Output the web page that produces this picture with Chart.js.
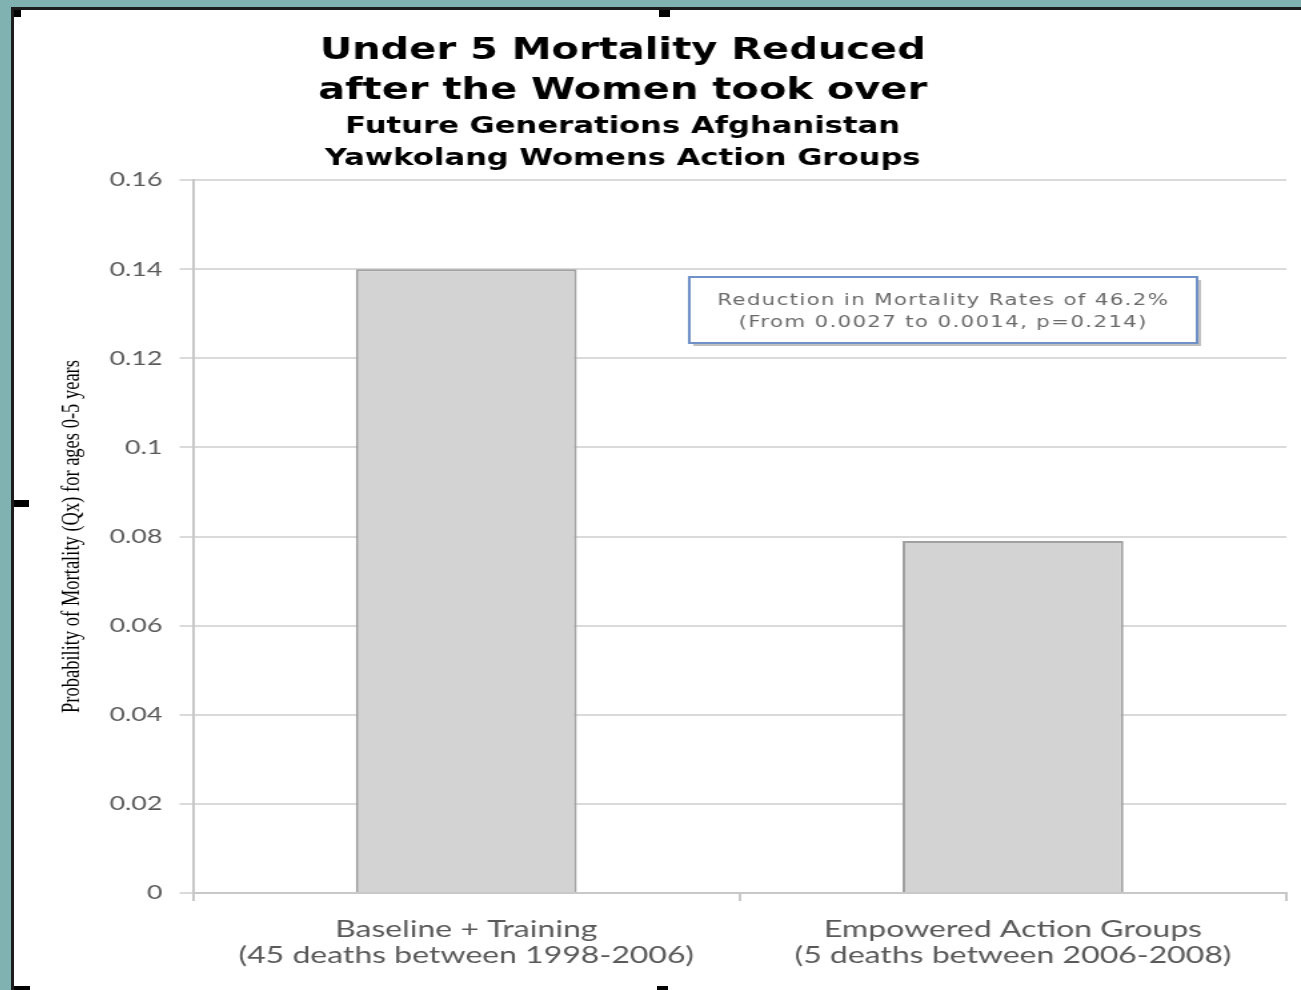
<!DOCTYPE html>
<html>
<head>
<meta charset="utf-8">
<script src="https://cdn.jsdelivr.net/npm/chart.js@4"></script>
<style>
    html, body { margin: 0; padding: 0; }
    body { width: 1301px; height: 990px; background: #80b2b2; position: relative; overflow: hidden; }
    #panel { position: absolute; left: 11px; top: 7px; width: 1290px; height: 983px; background: #fff;
             border-top: 3px solid #1c1c1c; border-left: 3px solid #1c1c1c; box-sizing: border-box; }
    #mortalityChart { position: absolute; left: 15px; top: 10px; }
    .handle { position: absolute; background: #000; }
</style>
</head>
<body>
<div id="panel"></div>
<canvas id="mortalityChart" width="965" height="980" style="width:1286px;height:980px;"></canvas>
<div class="handle" style="left:14px;top:10px;width:7px;height:7px;"></div>
<div class="handle" style="left:659px;top:10px;width:11px;height:7px;"></div>
<div class="handle" style="left:14px;top:500px;width:15px;height:7px;"></div>
<div class="handle" style="left:14px;top:986px;width:16px;height:4px;"></div>
<div class="handle" style="left:657px;top:986px;width:11px;height:4px;"></div>
<script>
// values
const categories = [
    ['Baseline + Training', '(45 deaths between 1998-2006)'],
    ['Empowered Action Groups', '(5 deaths between 2006-2008)']
];
const mortality = [0.14, 0.079];
const titleLines = ['Under 5 Mortality Reduced', 'after the Women took over'];
const subtitleLines = ['Future Generations Afghanistan', 'Yawkolang Womens Action Groups'];
const noteLines = ['Reduction in Mortality Rates of 46.2%', '(From 0.0027 to 0.0014, p=0.214)'];
const yTitle = 'Probability of Mortality (Qx) for ages 0-5 years';

// titles and the note box are drawn by hand
const textPlugin = {
    id: 'slideText',
    afterDraw(chart) {
        const ctx = chart.ctx;
        const area = chart.chartArea;
        ctx.save();
        ctx.textAlign = 'center';
        ctx.textBaseline = 'middle';
        ctx.fillStyle = '#000';
        ctx.font = 'bold 30px "DejaVu Sans"';
        titleLines.forEach((t, i) => ctx.fillText(t, 456, 41 + i * 40));
        ctx.font = 'bold 23px "DejaVu Sans"';
        subtitleLines.forEach((t, i) => ctx.fillText(t, 456, 117 + i * 32));

        // note box
        const bx = 506, by = area.top + 97, bw = 381, bh = 66;
        ctx.fillStyle = 'rgba(0,0,0,0.25)';
        ctx.fillRect(bx + 3, by + 3, bw, bh);
        ctx.fillStyle = '#fff';
        ctx.fillRect(bx, by, bw, bh);
        ctx.strokeStyle = '#6f91c8';
        ctx.lineWidth = 2;
        ctx.strokeRect(bx, by, bw, bh);
        ctx.fillStyle = '#6a6a6a';
        ctx.font = '16px "DejaVu Sans"';
        ctx.letterSpacing = '1px';
        noteLines.forEach((t, i) => ctx.fillText(t, bx + bw / 2, by + 24 + i * 22));
        ctx.restore();
    }
};

const ctx = document.getElementById('mortalityChart').getContext('2d');
new Chart(ctx, {
    type: 'bar',
    data: {
        labels: categories,
        datasets: [{
            data: mortality,
            backgroundColor: '#d3d3d3',
            borderColor: '#a0a0a0',
            borderWidth: 2,
            barPercentage: 0.404,
            categoryPercentage: 1
        }]
    },
    options: {
        responsive: false,
        animation: false,
        devicePixelRatio: 1,
        layout: { padding: { top: 170, right: 11, left: 0, bottom: 0 } },
        plugins: {
            legend: { display: false },
            tooltip: { enabled: false }
        },
        scales: {
            x: {
                afterFit: scale => { scale.height = 97; },
                grid: {
                    drawOnChartArea: false,
                    drawTicks: true,
                    tickLength: 8,
                    color: '#c8c8c8',
                    lineWidth: 2
                },
                border: { color: '#c8c8c8', width: 2 },
                ticks: {
                    padding: 15,
                    color: '#595959',
                    font: { family: 'Lato', size: 24, lineHeight: '26px' }
                }
            },
            y: {
                min: 0,
                max: 0.16,
                afterFit: scale => { scale.width = 133.5; },
                grid: {
                    color: '#dadada',
                    lineWidth: 2,
                    tickLength: 10
                },
                border: { color: '#c8c8c8', width: 2 },
                ticks: {
                    stepSize: 0.02,
                    padding: 13,
                    color: '#595959',
                    font: { family: 'Lato', size: 20 },
                    callback: value => String(+value.toFixed(2))
                },
                title: {
                    display: true,
                    text: yTitle,
                    color: '#000',
                    padding: { top: 31.7, bottom: 0 },
                    font: { family: 'Liberation Serif', size: 18.5 }
                }
            }
        }
    },
    plugins: [textPlugin]
});
</script>
</body>
</html>
